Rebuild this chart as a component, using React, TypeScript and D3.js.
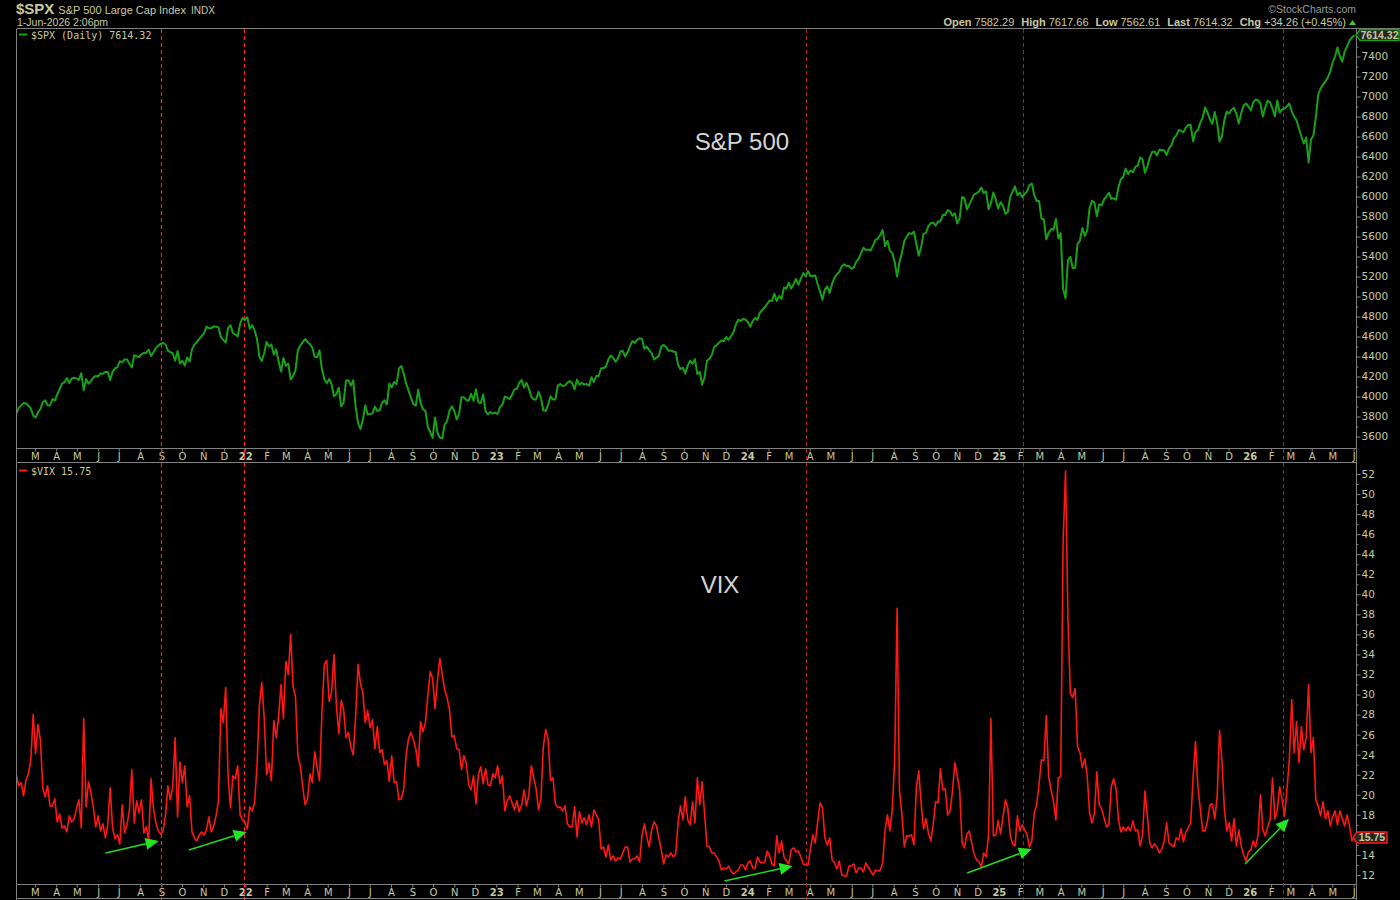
import { useEffect, useRef } from "react";
import * as d3 from "d3";

// S&P 500, two readings a week (Tue / Fri), one list per year
const spx2021 = [
  3826, 3886, 3911, 3934, 3932, 3907, 3881, 3811, 3790, 3842, 3875, 3943, 3963, 3913, 3910, 3975,
  3958, 4020, 4073, 4129, 4142, 4185, 4134, 4180, 4187, 4181, 4165, 4233, 4063, 4174, 4128, 4156,
  4188, 4204, 4202, 4230, 4227, 4247, 4246, 4166, 4246, 4281, 4291, 4352, 4343, 4370, 4369, 4327,
  4290, 4412, 4401, 4395, 4423, 4437, 4436, 4468, 4405, 4442, 4486, 4509, 4528, 4535, 4520, 4459,
  4443, 4433, 4358, 4455, 4330, 4357, 4310, 4391, 4350, 4471, 4519, 4545, 4574, 4605, 4631, 4697,
  4685, 4682, 4701, 4698, 4690, 4595, 4567, 4538, 4686, 4712, 4634, 4620, 4600, 4725, 4786, 4766,
];
const spx2022 = [
  4793, 4677, 4713, 4662, 4577, 4398, 4356, 4432, 4546, 4500, 4521, 4419, 4471, 4349, 4250, 4385,
  4306, 4329, 4170, 4204, 4262, 4463, 4511, 4543, 4575, 4546, 4525, 4488, 4397, 4393, 4462, 4272,
  4175, 4132, 4175, 4123, 4001, 4024, 4088, 3901, 3941, 4158, 4163, 4109, 4161, 3901, 3735, 3675,
  3765, 3912, 3821, 3825, 3831, 3899, 3855, 3863, 3937, 3962, 3921, 4130, 4091, 4145, 4122, 4280,
  4305, 4228, 4128, 4058, 3986, 3924, 3908, 4067, 3933, 3873, 3855, 3693, 3647, 3586, 3791, 3640,
  3588, 3583, 3720, 3753, 3859, 3901, 3856, 3771, 3828, 3993, 3992, 3965, 3958, 4026, 3958, 4072,
  3941, 3934, 4019, 3852, 3821, 3845, 3829, 3840,
];
const spx2023 = [
  3825, 3895, 3919, 3999, 3990, 3973, 4017, 4071, 4077, 4136, 4164, 4090, 4136, 4079, 3997, 3970,
  3970, 4046, 3986, 3862, 3856, 3917, 4002, 3971, 3971, 4109, 4124, 4105, 4109, 4138, 4154, 4133,
  4071, 4169, 4119, 4136, 4119, 4124, 4109, 4192, 4145, 4205, 4205, 4282, 4283, 4299, 4369, 4410,
  4388, 4348, 4378, 4450, 4455, 4399, 4439, 4505, 4554, 4536, 4567, 4582, 4576, 4478, 4499, 4464,
  4437, 4370, 4387, 4406, 4497, 4516, 4496, 4457, 4461, 4450, 4443, 4320, 4273, 4288, 4229, 4309,
  4358, 4327, 4373, 4224, 4247, 4117, 4193, 4358, 4378, 4415, 4495, 4514, 4538, 4559, 4554, 4595,
  4567, 4604, 4643, 4719, 4768, 4755, 4774, 4770,
];
const spx2024 = [
  4743, 4697, 4757, 4784, 4766, 4840, 4865, 4891, 4925, 4959, 4954, 5027, 4953, 5006, 4975, 5089,
  5078, 5137, 5079, 5124, 5175, 5117, 5178, 5234, 5203, 5254, 5205, 5204, 5209, 5123, 5051, 4967,
  5070, 5100, 5036, 5128, 5187, 5223, 5246, 5303, 5321, 5305, 5306, 5278, 5291, 5347, 5375, 5432,
  5487, 5465, 5469, 5460, 5509, 5567, 5577, 5615, 5667, 5505, 5555, 5459, 5436, 5346, 5200, 5344,
  5434, 5554, 5597, 5634, 5626, 5648, 5528, 5408, 5496, 5626, 5634, 5703, 5732, 5738, 5709, 5751,
  5751, 5815, 5815, 5864, 5851, 5808, 5832, 5729, 5782, 5995, 5984, 5870, 5917, 5969, 6021, 6032,
  6050, 6090, 6034, 6051, 5872, 5931, 6040, 5971,
];
const spx2025 = [
  5882, 5942, 5909, 5827, 5843, 5997, 6049, 6101, 6012, 6040, 5994, 6026, 6051, 6115, 6129, 6013,
  5955, 5955, 5778, 5770, 5572, 5638, 5675, 5667, 5776, 5581, 5633, 5074, 4982, 5363, 5397, 5282,
  5287, 5525, 5560, 5686, 5606, 5660, 5886, 5958, 5940, 5803, 5921, 5912, 5970, 6000, 6038, 5977,
  5982, 5967, 6092, 6173, 6198, 6279, 6225, 6260, 6243, 6297, 6309, 6389, 6371, 6238, 6299, 6389,
  6445, 6450, 6411, 6467, 6466, 6460, 6415, 6482, 6512, 6584, 6607, 6664, 6657, 6644, 6689, 6716,
  6714, 6552, 6645, 6664, 6736, 6791, 6891, 6840, 6771, 6728, 6846, 6734, 6550, 6603, 6766, 6849,
  6830, 6870, 6887, 6827, 6730, 6834, 6910, 6930,
];
const spx2026 = [
  6900, 6860, 6940, 6970, 6960, 6930, 6800, 6890, 6960, 6940, 6880, 6800, 6960, 6840, 6870, 6880,
  6900, 6930, 6850, 6800, 6760, 6680, 6600, 6530, 6590, 6340, 6570, 6610, 6790, 7020, 7080, 7120,
  7150, 7190, 7250, 7340, 7400, 7490, 7400, 7350, 7450, 7500, 7560, 7590, 7614,
];

// VIX, same sampling
const vix2021 = [
  22.0, 20.9, 21.2, 19.9, 21.5, 22.1, 23.4, 28.0, 24.1, 27.0, 25.5, 20.7, 19.8, 20.9, 18.9, 18.9,
  19.6, 17.3, 18.1, 16.7, 16.9, 16.3, 17.9, 17.3, 17.6, 18.6, 19.5, 16.7, 27.6, 18.8, 21.3, 20.2,
  18.8, 16.8, 17.9, 16.4, 17.1, 15.7, 17.0, 20.7, 16.7, 15.6, 16.0, 15.1, 19.0, 16.2, 17.0, 18.5,
  22.5, 17.2, 19.4, 18.2, 19.5, 16.2, 16.8, 15.5, 21.6, 18.6, 17.2, 16.4, 16.1, 16.4, 18.0, 20.9,
  19.5, 20.8, 25.7, 17.8, 23.3, 21.2, 22.9, 18.8, 19.9, 16.3, 15.7, 15.4, 16.0, 16.3, 16.0, 16.5,
  17.8, 16.3, 16.9, 17.9, 19.4, 28.6, 27.2, 30.7, 21.9, 18.7, 21.9, 21.6, 22.9, 18.0, 17.5, 17.2,
];
const vix2022 = [
  16.6, 18.8, 18.4, 19.2, 22.8, 28.9, 31.2, 27.7, 22.0, 23.2, 21.4, 27.4, 25.7, 27.8, 31.0, 27.6,
  33.3, 32.0, 36.0, 30.8, 29.8, 23.9, 22.9, 20.8, 19.0, 19.6, 22.1, 21.2, 24.3, 22.7, 21.4, 28.2,
  33.0, 33.4, 29.3, 30.2, 34.0, 28.9, 26.1, 29.4, 28.5, 25.7, 26.2, 24.8, 24.0, 27.8, 33.0, 31.1,
  30.2, 27.2, 28.4, 26.7, 27.5, 24.6, 26.8, 24.2, 24.5, 23.0, 23.4, 21.3, 23.9, 21.2, 21.3, 19.5,
  19.6, 20.6, 24.0, 25.6, 26.2, 25.5, 24.6, 22.8, 27.3, 26.3, 27.2, 29.9, 32.3, 31.6, 28.6, 31.4,
  33.6, 32.0, 30.5, 29.7, 28.5, 25.8, 25.9, 24.6, 24.5, 22.5, 23.9, 23.1, 21.0, 20.5, 21.9, 19.1,
  22.0, 22.8, 21.1, 22.6, 21.0, 20.9, 22.1, 21.7,
];
const vix2023 = [
  22.9, 21.1, 21.9, 18.4, 19.4, 19.9, 19.2, 18.5, 19.4, 18.3, 19.0, 20.5, 18.9, 20.0, 22.9, 21.7,
  20.6, 18.5, 19.6, 24.8, 26.5, 25.5, 21.4, 21.7, 19.1, 18.7, 18.8, 18.4, 18.9, 17.1, 16.8, 16.8,
  18.8, 15.8, 18.3, 17.2, 17.7, 17.0, 18.0, 16.8, 18.5, 18.0, 17.5, 14.6, 14.8, 13.8, 15.0, 13.5,
  13.9, 13.4, 13.7, 13.6, 14.2, 14.8, 14.8, 13.3, 13.6, 13.6, 13.9, 13.3, 16.0, 17.1, 15.8, 14.8,
  16.5, 17.3, 16.9, 15.7, 14.5, 13.1, 14.0, 13.8, 14.2, 13.8, 14.1, 17.2, 18.9, 17.5, 19.8, 17.5,
  17.0, 19.3, 17.2, 21.7, 19.0, 21.3, 18.1, 14.9, 14.8, 14.2, 14.2, 13.8, 13.4, 12.5, 12.7, 12.6,
  12.9, 12.4, 12.1, 12.3, 12.5, 13.0, 13.0, 12.5,
];
const vix2024 = [
  13.2, 13.4, 12.7, 12.7, 13.8, 13.3, 13.2, 13.3, 14.4, 13.9, 13.1, 12.9, 15.9, 14.2, 15.4, 13.8,
  13.4, 13.1, 14.5, 14.7, 14.3, 14.4, 13.8, 13.1, 13.0, 13.0, 14.6, 16.0, 15.2, 17.3, 19.2, 18.7,
  15.7, 15.0, 15.7, 13.5, 13.2, 12.6, 13.4, 12.0, 11.9, 11.9, 12.9, 12.9, 13.1, 12.2, 12.7, 12.7,
  12.3, 13.2, 12.8, 12.4, 12.0, 12.5, 12.4, 12.5, 13.2, 16.5, 18.0, 16.4, 18.6, 23.4, 38.6, 20.4,
  18.1, 14.8, 15.9, 15.9, 16.0, 15.0, 20.7, 22.4, 19.1, 16.6, 17.6, 16.2, 15.4, 17.0, 19.3, 19.2,
  22.6, 20.5, 20.6, 18.0, 18.4, 20.3, 23.2, 21.9, 20.5, 15.2, 14.7, 16.1, 16.4, 15.2, 14.1, 13.5,
  13.3, 12.8, 14.2, 13.8, 15.9, 27.6, 15.9, 16.0,
];
const vix2025 = [
  17.4, 16.1, 17.8, 19.5, 18.7, 16.0, 15.1, 14.9, 17.9, 16.4, 17.0, 16.5, 16.0, 14.8, 15.4, 18.2,
  19.0, 21.1, 23.5, 23.4, 27.9, 21.8, 20.5, 19.3, 17.5, 21.7, 21.8, 45.3, 52.3, 37.6, 30.1, 29.7,
  30.6, 24.8, 24.2, 22.7, 23.6, 21.9, 18.2, 17.2, 18.1, 22.3, 19.0, 18.6, 17.7, 16.8, 17.0, 20.8,
  21.6, 20.6, 17.5, 16.3, 16.8, 16.4, 16.8, 16.4, 17.4, 16.4, 16.5, 14.9, 16.0, 20.4, 17.9, 15.2,
  14.7, 15.1, 14.8, 14.2, 14.6, 15.4, 17.2, 15.2, 15.0, 14.8, 15.7, 15.5, 16.6, 15.3, 16.3, 16.7,
  17.2, 21.7, 25.3, 20.8, 18.6, 16.4, 16.4, 17.4, 19.0, 19.1, 17.6, 19.8, 26.4, 23.4, 18.6, 16.4,
  17.2, 15.4, 17.6, 14.9, 16.5, 14.9, 14.0, 13.4,
];
const vix2026 = [
  14.3, 14.5, 15.4, 14.8, 16.0, 20.0, 16.5, 15.9, 16.8, 17.5, 21.7, 17.6, 18.5, 20.8, 19.5, 17.9,
  20.5, 23.5, 29.5, 24.2, 27.3, 23.2, 26.8, 24.5, 25.7, 31.0, 24.2, 25.7, 19.5, 18.9, 17.9, 19.3,
  17.6, 18.4, 16.9, 17.8, 18.4, 17.0, 18.4, 17.6, 16.9, 18.0, 16.9, 15.4, 15.75,
];

// first Tuesday of each yearly list
const yearStarts = ["2021-02-02", "2022-01-04", "2023-01-03", "2024-01-02", "2024-12-31", "2025-12-30"];
const spxYears = [spx2021, spx2022, spx2023, spx2024, spx2025, spx2026];
const vixYears = [vix2021, vix2022, vix2023, vix2024, vix2025, vix2026];

// marker lines and arrows drawn on the chart
const eventDates = ["2021-09-01", "2021-12-30", "2024-03-26", "2025-02-05", "2026-02-19"];
const arrowStarts = [["2021-06-12", 14.2], ["2021-10-11", 14.5], ["2023-11-29", 11.4], ["2024-11-16", 12.2], ["2025-12-25", 13.1]];
const arrowEnds = [["2021-08-28", 15.4], ["2022-01-03", 16.3], ["2024-03-07", 12.9], ["2025-02-18", 14.6], ["2026-02-27", 17.6]];

const spxTicks = d3.range(3600, 7401, 200);
const vixTicks = d3.range(12, 53, 2);
const vixHiddenLabel = 16; // sits under the last-value tag
const monthLetters = ["J", "F", "M", "A", "M", "J", "J", "A", "S", "O", "N", "D"];

const BEIGE = "#c9c9a1";
const FRAME = "#808080";
const GREEN = "#19a019";
const RED = "#ff1616";

const day = (s: string) => new Date(s + "T00:00:00");

function halfWeekly(start: string, values: number[]) {
  const t0 = day(start).getTime();
  return values.map((v, i) => ({ date: new Date(t0 + i * 3.5 * 864e5), value: v }));
}

export default function App() {
  const ref = useRef<SVGSVGElement>(null);

  useEffect(() => {
    const svg = d3.select(ref.current);
    svg.selectAll("*").remove();

    const x = d3.scaleTime().domain([day("2021-02-03"), day("2026-06-03")]).range([17, 1355]);
    const ySpx = d3.scaleLinear().domain([3600, 7400]).range([436.5, 56.5]);
    const yVix = d3.scaleLinear().domain([12, 52]).range([875, 474]);

    const spx = yearStarts.flatMap((s, i) => halfWeekly(s, spxYears[i]));
    const vix = yearStarts.flatMap((s, i) => halfWeekly(s, vixYears[i]));

    svg.append("rect").attr("width", 1400).attr("height", 900).attr("fill", "#000");

    const defs = svg.append("defs");
    defs.append("clipPath").attr("id", "clipTop").append("rect")
      .attr("x", 17).attr("y", 29).attr("width", 1339).attr("height", 419);
    defs.append("clipPath").attr("id", "clipBot").append("rect")
      .attr("x", 17).attr("y", 463).attr("width", 1339).attr("height", 421);

    // frame
    const frame = svg.append("g").attr("stroke", FRAME).attr("stroke-width", 1);
    frame.append("line").attr("x1", 17).attr("x2", 1400).attr("y1", 28.5).attr("y2", 28.5);
    frame.append("line").attr("x1", 16.5).attr("x2", 16.5).attr("y1", 28.5).attr("y2", 900);
    frame.append("line").attr("x1", 1356.5).attr("x2", 1356.5).attr("y1", 28.5).attr("y2", 900);
    [448.5, 462.5, 884.5, 898.5].forEach((yy) =>
      frame.append("line").attr("x1", 17).attr("x2", 1356.5).attr("y1", yy).attr("y2", yy)
    );

    // month bands
    const months = d3.timeMonth.range(d3.timeMonth.ceil(x.domain()[0]), x.domain()[1]);
    [448.5, 884.5].forEach((yy) => {
      const ax = svg.append("g")
        .attr("transform", `translate(0,${yy})`)
        .call(
          d3.axisBottom(x)
            .tickValues(months)
            .tickSize(3)
            .tickPadding(1.5)
            .tickFormat((d: any) => (d.getMonth() === 0 ? d3.timeFormat("%y")(d) : monthLetters[d.getMonth()]))
        );
      ax.select(".domain").remove();
      ax.selectAll("line").attr("stroke", FRAME);
      ax.selectAll("text")
        .attr("fill", BEIGE)
        .style("font-family", "DejaVu Sans")
        .style("font-size", "10px")
        .style("font-weight", (d: any) => (d.getMonth() === 0 ? "bold" : "normal"));
    });

    // right axes
    const rightAxis = (scale: any, major: number[], minor: number[], fmt: any) => {
      const g = svg.append("g").attr("transform", "translate(1356.5,0)");
      const a = g.append("g").call(d3.axisRight(scale).tickValues(major).tickSize(4).tickPadding(1).tickFormat(fmt));
      const m = g.append("g").call(d3.axisRight(scale).tickValues(minor).tickSize(2).tickFormat(() => ""));
      [a, m].forEach((s) => {
        s.select(".domain").remove();
        s.selectAll("line").attr("stroke", FRAME);
      });
      a.selectAll("text")
        .attr("fill", BEIGE)
        .style("font-family", "DejaVu Sans")
        .style("font-size", "10.5px");
    };
    rightAxis(ySpx, spxTicks, spxTicks.map((t) => t + 100), d3.format("d"));
    rightAxis(
      yVix,
      vixTicks,
      vixTicks.slice(0, -1).map((t) => t + 1),
      (d: number) => (d === vixHiddenLabel ? "" : d3.format("d")(d))
    );

    // event lines
    eventDates.forEach((d, i) => {
      svg.append("line")
        .attr("x1", Math.round(x(day(d))) + 0.5)
        .attr("x2", Math.round(x(day(d))) + 0.5)
        .attr("y1", 29)
        .attr("y2", 900)
        .attr("stroke", i < 2 ? "#ff2020" : "#c02424")
        .attr("stroke-width", i < 2 ? 1.2 : 0.9)
        .attr("stroke-dasharray", "4,3");
    });

    // lines
    const lineSpx = d3.line<any>().x((d) => x(d.date)).y((d) => ySpx(d.value));
    const lineVix = d3.line<any>().x((d) => x(d.date)).y((d) => yVix(d.value));

    svg.append("path")
      .datum(spx)
      .attr("clip-path", "url(#clipTop)")
      .attr("fill", "none")
      .attr("stroke", GREEN)
      .attr("stroke-width", 2)
      .attr("stroke-linejoin", "round")
      .attr("d", lineSpx);

    svg.append("path")
      .datum(vix)
      .attr("clip-path", "url(#clipBot)")
      .attr("fill", "none")
      .attr("stroke", RED)
      .attr("stroke-width", 1.6)
      .attr("stroke-linejoin", "round")
      .attr("d", lineVix);

    // green arrows on the VIX panel
    arrowStarts.forEach((s, i) => {
      const e = arrowEnds[i];
      const x0 = x(day(s[0] as string)), y0 = yVix(s[1] as number);
      const x1 = x(day(e[0] as string)), y1 = yVix(e[1] as number);
      const len = Math.hypot(x1 - x0, y1 - y0);
      const ux = (x1 - x0) / len, uy = (y1 - y0) / len;
      const hl = 13, hw = 6;
      svg.append("line")
        .attr("x1", x0).attr("y1", y0)
        .attr("x2", x1 - ux * hl).attr("y2", y1 - uy * hl)
        .attr("stroke", "#22d822").attr("stroke-width", 1.5);
      const bx = x1 - ux * hl, by = y1 - uy * hl;
      svg.append("path")
        .attr("d", `M${x1},${y1}L${bx - uy * hw},${by + ux * hw}L${bx + uy * hw},${by - ux * hw}Z`)
        .attr("fill", "#22e622");
    });

    // big labels
    svg.append("text").attr("x", 742).attr("y", 150).attr("text-anchor", "middle")
      .style("font-family", "Liberation Sans").style("font-size", "24px").attr("fill", "#d6d6d6").text("S&P 500");
    svg.append("text").attr("x", 720).attr("y", 593).attr("text-anchor", "middle")
      .style("font-family", "Liberation Sans").style("font-size", "24px").attr("fill", "#d6d6d6").text("VIX");

    // legends
    svg.append("line").attr("x1", 19).attr("x2", 27).attr("y1", 34.5).attr("y2", 34.5).attr("stroke", GREEN).attr("stroke-width", 2);
    svg.append("text").attr("x", 31).attr("y", 38.5).attr("fill", BEIGE)
      .style("font-family", "DejaVu Sans Mono").style("font-size", "10px").text("$SPX (Daily) 7614.32");
    svg.append("line").attr("x1", 19).attr("x2", 27).attr("y1", 470.5).attr("y2", 470.5).attr("stroke", RED).attr("stroke-width", 2);
    svg.append("text").attr("x", 31).attr("y", 474.5).attr("fill", BEIGE)
      .style("font-family", "DejaVu Sans Mono").style("font-size", "10px").text("$VIX 15.75");

    // header
    const head = svg.append("text").attr("x", 16).attr("y", 14).attr("fill", BEIGE).style("font-family", "Liberation Sans");
    head.append("tspan").style("font-size", "15px").style("font-weight", "bold").text("$SPX");
    head.append("tspan").attr("dx", 4).style("font-size", "11px").text("S&P 500 Large Cap Index");
    head.append("tspan").attr("dx", 5).style("font-size", "10px").text("INDX");
    svg.append("text").attr("x", 17).attr("y", 25.5).attr("fill", BEIGE)
      .style("font-family", "Liberation Sans").style("font-size", "10.5px").text("1-Jun-2026 2:06pm");

    svg.append("text").attr("x", 1356).attr("y", 12.5).attr("text-anchor", "end").attr("fill", "#9a9a9a")
      .style("font-family", "Liberation Sans").style("font-size", "10.5px").text("\u00a9StockCharts.com");

    const ohlc = svg.append("text").attr("x", 1346).attr("y", 25.5).attr("text-anchor", "end").attr("fill", BEIGE)
      .style("font-family", "Liberation Sans").style("font-size", "11px");
    const parts: [string, string][] = [["Open", "7582.29"], ["High", "7617.66"], ["Low", "7562.61"], ["Last", "7614.32"], ["Chg", "+34.26 (+0.45%)"]];
    parts.forEach(([k, v], i) => {
      ohlc.append("tspan").attr("dx", i === 0 ? 0 : 7).style("font-weight", "bold").text(k);
      ohlc.append("tspan").attr("dx", 3).text(v);
    });
    svg.append("path").attr("d", "M1349,25L1352.5,20L1356,25Z").attr("fill", "#3ccf3c");

    // last value tags
    const tag = (yc: number, x0: number, x1: number, color: string, label: string) => {
      svg.append("path")
        .attr("d", `M${x0},${yc}L${x0 + 4},${yc - 5.5}L${x1},${yc - 5.5}L${x1},${yc + 5.5}L${x0 + 4},${yc + 5.5}Z`)
        .attr("fill", "#262620").attr("stroke", color).attr("stroke-width", 1.5);
      svg.append("text").attr("x", (x0 + 4 + x1) / 2).attr("y", yc + 4).attr("text-anchor", "middle")
        .attr("fill", BEIGE).style("font-family", "Liberation Sans").style("font-weight", "bold")
        .style("font-size", "10.5px").text(label);
    };
    tag(ySpx(7614.32), 1356, 1399, GREEN, "7614.32");
    tag(yVix(15.75), 1353, 1387, RED, "15.75");
  }, []);

  return (
    <div style={{ position: "absolute", left: 0, top: 0, width: 1400, height: 900, background: "#000" }}>
      <svg ref={ref} width={1400} height={900} style={{ display: "block" }} />
    </div>
  );
}
